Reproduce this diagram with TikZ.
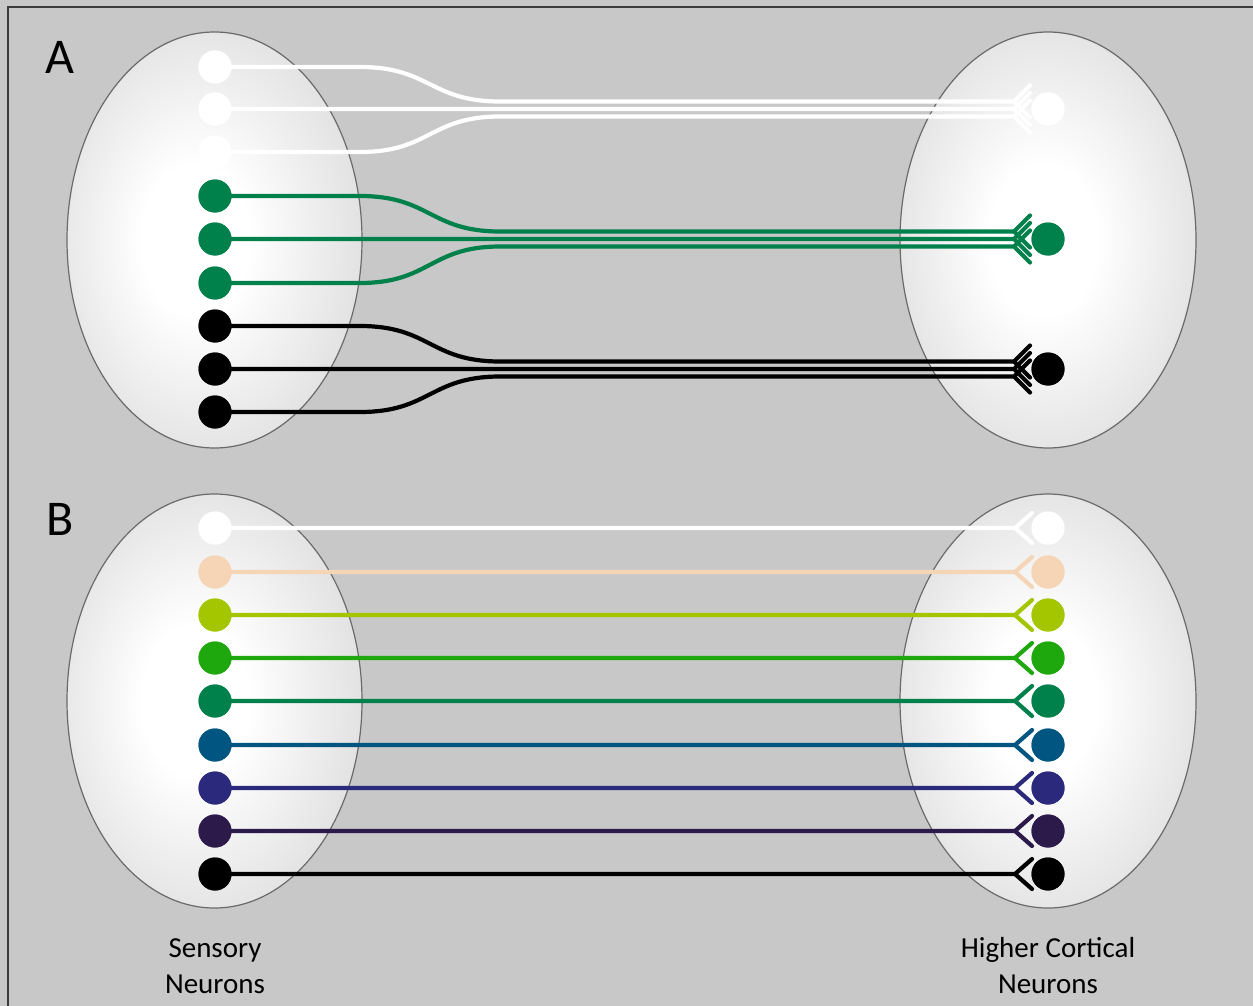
\documentclass[tikz,border=0pt]{standalone}
\usepackage{fontspec}
\setmainfont{Carlito}
\usetikzlibrary{calc}

\definecolor{bg}{HTML}{C8C8C8}
\definecolor{framegray}{HTML}{3C3C3C}
\definecolor{rimgray}{HTML}{A0A0A0}
\definecolor{midgray}{HTML}{DADADA}
\definecolor{rimline}{HTML}{6A6A6A}
\definecolor{agreen}{HTML}{00804A}
\definecolor{cpeach}{HTML}{F5D5B6}
\definecolor{clime}{HTML}{A3C600}
\definecolor{cgreen}{HTML}{1FA80E}
\definecolor{cteal}{HTML}{005680}
\definecolor{cindigo}{HTML}{2B297C}
\definecolor{cplum}{HTML}{2C1A4A}

% soft white core fading to grey at the rim
\pgfdeclareradialshading{bodyleft}{\pgfpoint{-4bp}{0bp}}{color(0bp)=(white); color(9bp)=(white); color(32bp)=(midgray); color(50bp)=(rimgray)}
\pgfdeclareradialshading{bodyright}{\pgfpoint{-1bp}{0bp}}{color(0bp)=(white); color(9bp)=(white); color(32bp)=(midgray); color(50bp)=(rimgray)}

\tikzset{
  body/.style={draw=rimline, line width=1.2pt},
  soma/.style={circle, inner sep=0pt, minimum size=33pt, fill=#1},
  axon/.style={line width=4.2pt, line cap=round, line join=round, draw=#1},
  lbl/.style={font=\fontsize{29}{36}\selectfont, anchor=base, inner sep=0pt},
  panel/.style={font=\fontsize{50}{60}\selectfont, anchor=base, inner sep=0pt},
}

\begin{document}
\begin{tikzpicture}[x=1pt, y=-1pt]
\useasboundingbox (0,0) rectangle (1253,1006);
\fill[bg] (0,0) rectangle (1253,1006);
\draw[framegray, line width=2pt] (7.5,1006) -- (7.5,7.5) -- (1253,7.5);

% four neuron populations
\shade[shading=bodyleft]  (214.5,240) ellipse [x radius=147.5, y radius=208];
\draw[body]               (214.5,240) ellipse [x radius=147.5, y radius=208];
\shade[shading=bodyright] (1048,240) ellipse [x radius=148, y radius=208];
\draw[body]               (1048,240) ellipse [x radius=148, y radius=208];
\shade[shading=bodyleft]  (214.5,701) ellipse [x radius=147.5, y radius=207];
\draw[body]               (214.5,701) ellipse [x radius=147.5, y radius=207];
\shade[shading=bodyright] (1048,701) ellipse [x radius=148, y radius=207];
\draw[body]               (1048,701) ellipse [x radius=148, y radius=207];

% panel A: sensory cells
\foreach \i/\y/\c in {1/67/white,2/109/white,3/152/white,
                      4/196/agreen,5/239/agreen,6/283/agreen,
                      7/326/black,8/369/black,9/412/black}
  \node[soma=\c] (sA\i) at (215,\y) {};
% panel A: cortical cells
\foreach \i/\y/\c in {1/109/white,2/239/agreen,3/369/black}
  \node[soma=\c] (hA\i) at (1048,\y) {};

% panel A: converging axons
\foreach \i/\t/\d/\c in {1/1/-7.5/white,2/1/0/white,3/1/7.5/white,
                         4/2/-7.5/agreen,5/2/0/agreen,6/2/7.5/agreen,
                         7/3/-7.5/black,8/3/0/black,9/3/7.5/black}{
  \coordinate (vA\i) at ($(hA\t.center)+(-34,\d)$);
  \draw[axon=\c] (sA\i.center) -- ($(sA\i.center)+(145,0)$)
     .. controls ($(sA\i.center)+(215,0)$) and ($(vA\i)+(-584,0)$) .. ($(vA\i)+(-514,0)$)
     -- (vA\i) -- ++(16,-16) (vA\i) -- ++(16,16);
}
\foreach \i/\c in {1/white,2/white,3/white,4/agreen,5/agreen,6/agreen,7/black,8/black,9/black}
  \fill[\c] (sA\i) circle[radius=16.5pt];
\foreach \i/\c in {1/white,2/agreen,3/black}
  \fill[\c] (hA\i) circle[radius=16.5pt];

% panel B: one-to-one lines
\foreach \i/\y/\c in {1/528/white,2/572/cpeach,3/615/clime,4/658/cgreen,5/701/agreen,
                      6/745/cteal,7/788/cindigo,8/831/cplum,9/874/black}{
  \node[soma=\c] (sB\i) at (215,\y) {};
  \node[soma=\c] (hB\i) at (1048,\y) {};
  \coordinate (vB\i) at ($(hB\i.center)+(-33,0)$);
  \draw[axon=\c] (sB\i.center) -- (vB\i) -- ++(17,-15) (vB\i) -- ++(17,15);
  \fill[\c] (sB\i) circle[radius=16.5pt];
  \fill[\c] (hB\i) circle[radius=16.5pt];
}

% labels
\node[panel] (labA) at (60,74) {A};
\node[panel] (labB) at (60,535) {B};
\node[lbl] (sens1) at (215,957) {Sensory};
\node[lbl] (sens2) at (215,993) {Neurons};
\node[lbl] (cort1) at (1048,957) {Higher Cortical};
\node[lbl] (cort2) at (1048,993) {Neurons};
\end{tikzpicture}
\end{document}
